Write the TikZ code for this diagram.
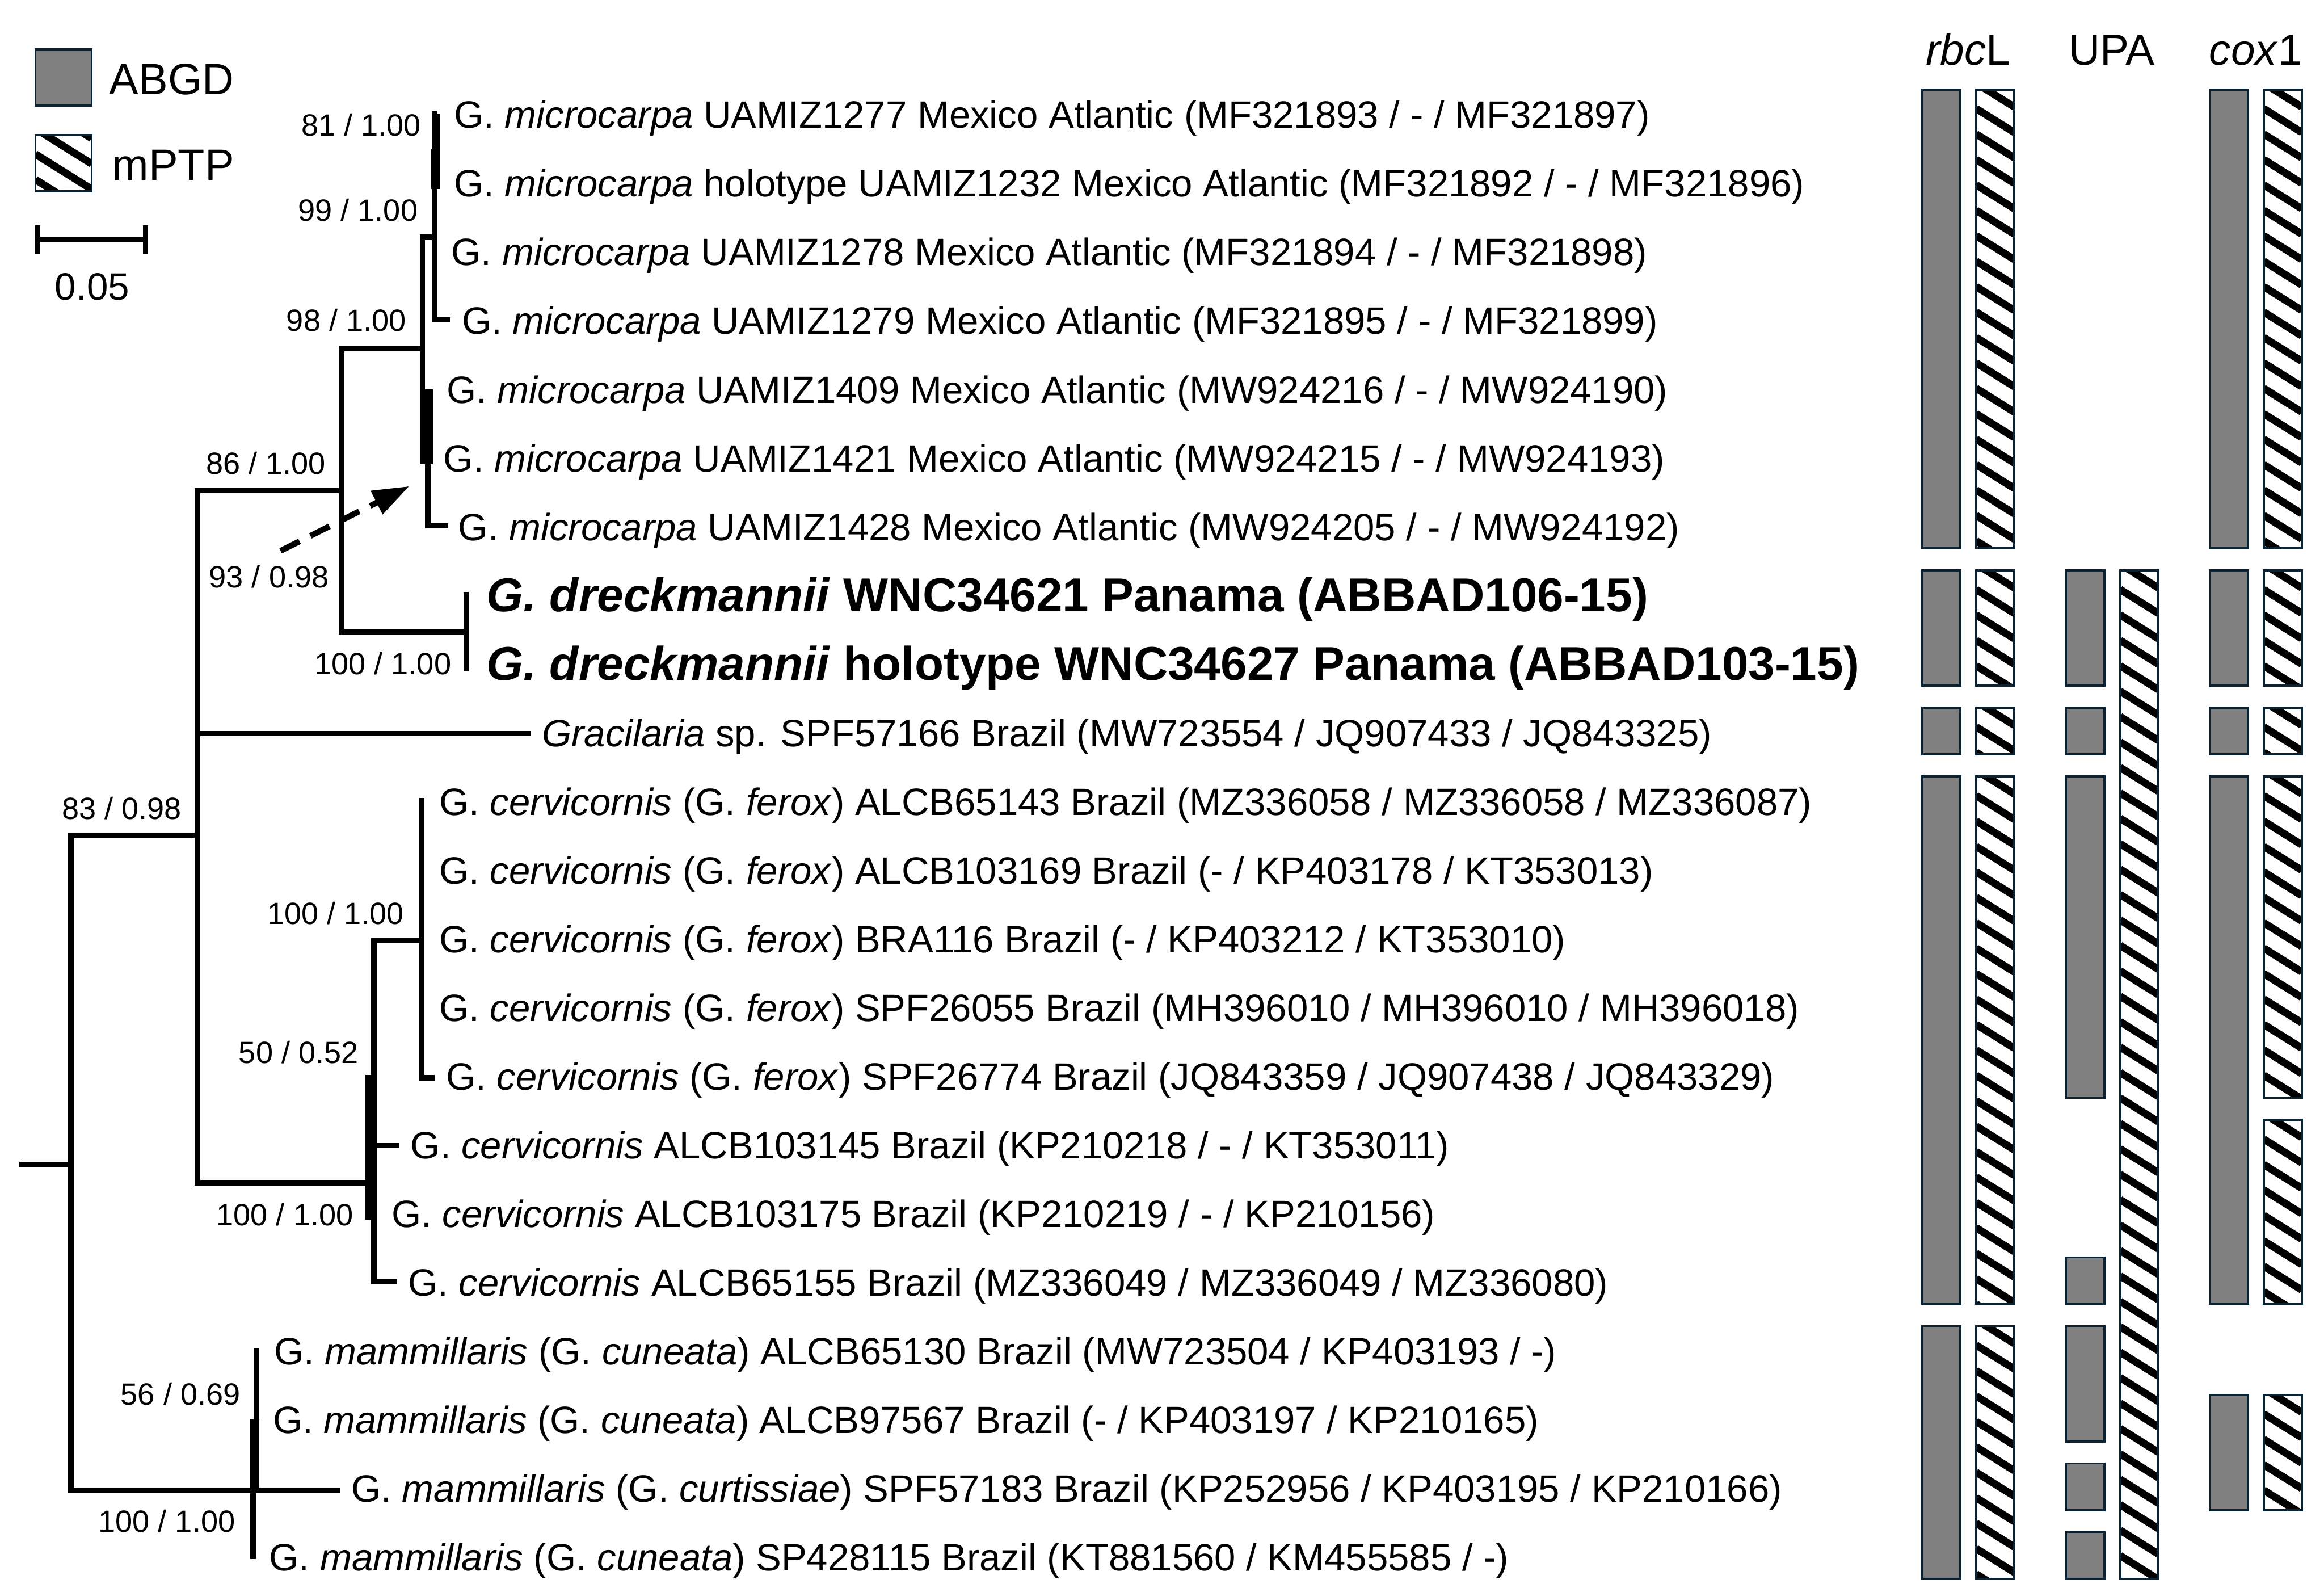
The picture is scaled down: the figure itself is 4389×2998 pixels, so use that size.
\documentclass[tikz,border=0pt]{standalone}
\usepackage{fontspec}
\setmainfont{Liberation Sans}
\usetikzlibrary{arrows.meta}
\definecolor{bargray}{HTML}{808080}
\definecolor{barline}{HTML}{0B2232}

\tikzset{
  branch/.style={line width=0.1cm, line cap=rect},
  taxon/.style={anchor=base west, inner sep=0pt, font=\fontsize{20.45}{25}\selectfont},
  newsp/.style={anchor=base west, inner sep=0pt, font=\fontsize{25.5}{30}\selectfont\bfseries},
  support/.style={anchor=base, inner sep=0pt, font=\fontsize{16.5}{20}\selectfont},
  header/.style={anchor=base, inner sep=0pt, font=\fontsize{23.3}{28}\selectfont},
  legendtext/.style={anchor=base west, inner sep=0pt, font=\fontsize{23.6}{28}\selectfont},
  hatchline/.style={line width=0.14cm},
  barframe/.style={draw=barline, line width=0.04cm},
  pointer/.style={line width=0.11cm, dash pattern=on 0.4cm off 0.23cm,
    -{Triangle[length=0.69cm,width=0.47cm]}}
}

% row centre, bar top and bar bottom (px, y downwards)
\newcommand{\ry}[1]{(215+129.7*(#1-1))}
\newcommand{\bt}[1]{\ry{#1}-46}
\newcommand{\bb}[1]{\ry{#1}+42}

\newcommand{\graybar}[4]{%
  \draw[barframe, fill=bargray] (#1,{#2}) rectangle ({#1+#4},{#3});}
\newcommand{\hatchbar}[4]{%
  \begin{scope}
    \clip (#1,{#2}) rectangle ({#1+#4},{#3});
    \foreach \k in {0,...,42}
      \draw[hatchline] (#1,{#2-60+48*\k}) -- ++(#4,{#4*0.625});
  \end{scope}
  \draw[barframe] (#1,{#2}) rectangle ({#1+#4},{#3});}

\begin{document}
\begin{tikzpicture}[x=0.01cm, y=-0.01cm]
\useasboundingbox (0,0) rectangle (4389,2998);

% legend
\graybar{67}{93}{199}{106}
\hatchbar{67}{255}{361}{106}
\node[legendtext] (abgd) at (206,178) {ABGD};
\node[legendtext] (mptp) at (211,340) {mPTP};
\coordinate (sbL) at (71,452);
\coordinate (sbR) at (275,452);
\draw[branch, line cap=butt] (sbL) -- (sbR);
\draw[branch, line cap=butt] (sbL) ++(0,-27) -- ++(0,55);
\draw[branch, line cap=butt] (sbR) ++(0,-27) -- ++(0,55);
\node[anchor=base, inner sep=0pt, font=\fontsize{20.5}{25}\selectfont] (sblab) at (174,566) {0.05};

% tree nodes
\coordinate (root) at (41,2198);
\coordinate (n0) at (134,2198);
\coordinate (nA) at (373,1577);
\coordinate (nB) at (645,926);
\coordinate (nC) at (798,658);
\coordinate (nCe) at (798,740);
\coordinate (nD) at (820,448);
\coordinate (d1) at (820,215);
\coordinate (e6) at (808,870);
\coordinate (nDr) at (880,1193);
\coordinate (dr8) at (880,1123);
\coordinate (dr9) at (880,1263);
\coordinate (nCv) at (706,2233);
\coordinate (nCu) at (797,1776);
\coordinate (cu11) at (797,1512);
\coordinate (nM) at (478,2814);
\coordinate (m19) at (484,2551);
\coordinate (m20) at (484,2690);
\coordinate (m22) at (478,2939);
% leaf ends
\coordinate (l4) at (845,604);
\coordinate (l7) at (842,993);
\coordinate (l10) at (998,1385);
\coordinate (l15) at (816,2035);
\coordinate (l16) at (749,2163);
\coordinate (l18) at (745,2420);
\coordinate (l21) at (638,2814);

% branches
\draw[branch] (root) -- (n0);
\draw[branch] (nA) -| (n0) |- (nM) -- (l21);
\draw[branch] (nB) -| (nA) |- (nCv);
\draw[branch] (nA) |- (l10);
\draw[branch] (nC) -| (nB) |- (nDr);
\draw[line width=0.12cm] (nB |- nDr) -- (nDr);
\draw[branch] (dr8) -- (dr9);
\draw[branch] (nD) -| (nC) -- (nCe);
\draw[branch] (d1) |- (l4);
\fill (814,282) rectangle (831,357);
\fill (819,215) rectangle (831,357);
\fill (793,735) rectangle (818,876);
\draw[branch] (e6) |- (l7);
\draw[branch] (nCu) -| (nCv) |- (l18);
\draw[branch] (nCv) |- (l16);
\fill (690,2030) rectangle (712,2303);
\draw[branch] (cu11) |- (l15);
\draw[branch] (m19) -- (m20);
\fill (472,2680) rectangle (490,2814);
\draw[branch] (nM) -- (m22);

% support values
\node[support] (s81) at (682,257) {81 / 1.00};
\node[support] (s99) at (676,417) {99 / 1.00};
\node[support] (s98) at (654,625) {98 / 1.00};
\node[support] (s86) at (502,895) {86 / 1.00};
\node[support] (s93) at (508,1110) {93 / 0.98};
\node[support] (sdr) at (723,1273) {100 / 1.00};
\node[support] (s83) at (230,1547) {83 / 0.98};
\node[support] (scu) at (634,1745) {100 / 1.00};
\node[support] (s50) at (564,2007) {50 / 0.52};
\node[support] (scv) at (538,2314) {100 / 1.00};
\node[support] (s56) at (341,2653) {56 / 0.69};
\node[support] (smm) at (315,2893) {100 / 1.00};

% dashed pointer
\coordinate (arrS) at (530,1040);
\coordinate (arrE) at (773,918);
\draw[pointer] (arrS) -- (arrE);

% taxa
\node[taxon] (t1) at (857,{\ry{1}+27}) {G. \textit{microcarpa} UAMIZ1277 Mexico Atlantic (MF321893 / - / MF321897)};
\node[taxon] (t2) at (857,{\ry{2}+27}) {G. \textit{microcarpa} holotype UAMIZ1232 Mexico Atlantic (MF321892 / - / MF321896)};
\node[taxon] (t3) at (852,{\ry{3}+27}) {G. \textit{microcarpa} UAMIZ1278 Mexico Atlantic (MF321894 / - / MF321898)};
\node[taxon] (t4) at (872,{\ry{4}+27}) {G. \textit{microcarpa} UAMIZ1279 Mexico Atlantic (MF321895 / - / MF321899)};
\node[taxon] (t5) at (843,{\ry{5}+27}) {G. \textit{microcarpa} UAMIZ1409 Mexico Atlantic (MW924216 / - / MW924190)};
\node[taxon] (t6) at (837,{\ry{6}+27}) {G. \textit{microcarpa} UAMIZ1421 Mexico Atlantic (MW924215 / - / MW924193)};
\node[taxon] (t7) at (865,{\ry{7}+27}) {G. \textit{microcarpa} UAMIZ1428 Mexico Atlantic (MW924205 / - / MW924192)};
\node[newsp] (t8) at (918,{\ry{8}+32}) {\textit{G. dreckmannii} WNC34621 Panama (ABBAD106-15)};
\node[newsp] (t9) at (918,{\ry{9}+32}) {\textit{G. dreckmannii} holotype WNC34627 Panama (ABBAD103-15)};
\node[taxon] (t10) at (1023,{\ry{10}+27}) {\textit{Gracilaria} sp. SPF57166 Brazil (MW723554 / JQ907433 / JQ843325)};
\node[taxon] (t11) at (829,{\ry{11}+27}) {G. \textit{cervicornis} (G. \textit{ferox}) ALCB65143 Brazil (MZ336058 / MZ336058 / MZ336087)};
\node[taxon] (t12) at (829,{\ry{12}+27}) {G. \textit{cervicornis} (G. \textit{ferox}) ALCB103169 Brazil (- / KP403178 / KT353013)};
\node[taxon] (t13) at (829,{\ry{13}+27}) {G. \textit{cervicornis} (G. \textit{ferox}) BRA116 Brazil (- / KP403212 / KT353010)};
\node[taxon] (t14) at (829,{\ry{14}+27}) {G. \textit{cervicornis} (G. \textit{ferox}) SPF26055 Brazil (MH396010 / MH396010 / MH396018)};
\node[taxon] (t15) at (842,{\ry{15}+27}) {G. \textit{cervicornis} (G. \textit{ferox}) SPF26774 Brazil (JQ843359 / JQ907438 / JQ843329)};
\node[taxon] (t16) at (775,{\ry{16}+27}) {G. \textit{cervicornis} ALCB103145 Brazil (KP210218 / - / KT353011)};
\node[taxon] (t17) at (739,{\ry{17}+27}) {G. \textit{cervicornis} ALCB103175 Brazil (KP210219 / - / KP210156)};
\node[taxon] (t18) at (770,{\ry{18}+27}) {G. \textit{cervicornis} ALCB65155 Brazil (MZ336049 / MZ336049 / MZ336080)};
\node[taxon] (t19) at (517,{\ry{19}+27}) {G. \textit{mammillaris} (G. \textit{cuneata}) ALCB65130 Brazil (MW723504 / KP403193 / -)};
\node[taxon] (t20) at (515,{\ry{20}+27}) {G. \textit{mammillaris} (G. \textit{cuneata}) ALCB97567 Brazil (- / KP403197 / KP210165)};
\node[taxon] (t21) at (663,{\ry{21}+27}) {G. \textit{mammillaris} (G. \textit{curtissiae}) SPF57183 Brazil (KP252956 / KP403195 / KP210166)};
\node[taxon] (t22) at (508,{\ry{22}+27}) {G. \textit{mammillaris} (G. \textit{cuneata}) SP428115 Brazil (KT881560 / KM455585 / -)};

% marker headers
\node[header] (hrbcl) at (3717,123) {\textit{rbc}L};
\node[header] (hupa) at (3988,123) {UPA};
\node[header] (hcox) at (4260,123) {\textit{cox}1};

% rbcL
\graybar{3630}{\bt{1}}{\bb{7}}{72}
\graybar{3630}{\bt{8}}{\bb{9}}{72}
\graybar{3630}{\bt{10}}{\bb{10}}{72}
\graybar{3630}{\bt{11}}{\bb{18}}{72}
\graybar{3630}{\bt{19}}{\bb{22}}{72}
\hatchbar{3732}{\bt{1}}{\bb{7}}{72}
\hatchbar{3732}{\bt{8}}{\bb{9}}{72}
\hatchbar{3732}{\bt{10}}{\bb{10}}{72}
\hatchbar{3732}{\bt{11}}{\bb{18}}{72}
\hatchbar{3732}{\bt{19}}{\bb{22}}{72}

% UPA
\graybar{3902}{\bt{8}}{\bb{9}}{72}
\graybar{3902}{\bt{10}}{\bb{10}}{72}
\graybar{3902}{\bt{11}}{\bb{15}}{72}
\graybar{3902}{\bt{18}}{\bb{18}}{72}
\graybar{3902}{\bt{19}}{\bb{20}}{72}
\graybar{3902}{\bt{21}}{\bb{21}}{72}
\graybar{3902}{\bt{22}}{\bb{22}}{72}
\hatchbar{4004}{\bt{8}}{\bb{22}}{72}

% cox1
\graybar{4173}{\bt{1}}{\bb{7}}{72}
\graybar{4173}{\bt{8}}{\bb{9}}{72}
\graybar{4173}{\bt{10}}{\bb{10}}{72}
\graybar{4173}{\bt{11}}{\bb{18}}{72}
\graybar{4173}{\bt{20}}{\bb{21}}{72}
\hatchbar{4275}{\bt{1}}{\bb{7}}{72}
\hatchbar{4275}{\bt{8}}{\bb{9}}{72}
\hatchbar{4275}{\bt{10}}{\bb{10}}{72}
\hatchbar{4275}{\bt{11}}{\bb{15}}{72}
\hatchbar{4275}{\bt{16}}{\bb{18}}{72}
\hatchbar{4275}{\bt{20}}{\bb{21}}{72}
\end{tikzpicture}
\end{document}
